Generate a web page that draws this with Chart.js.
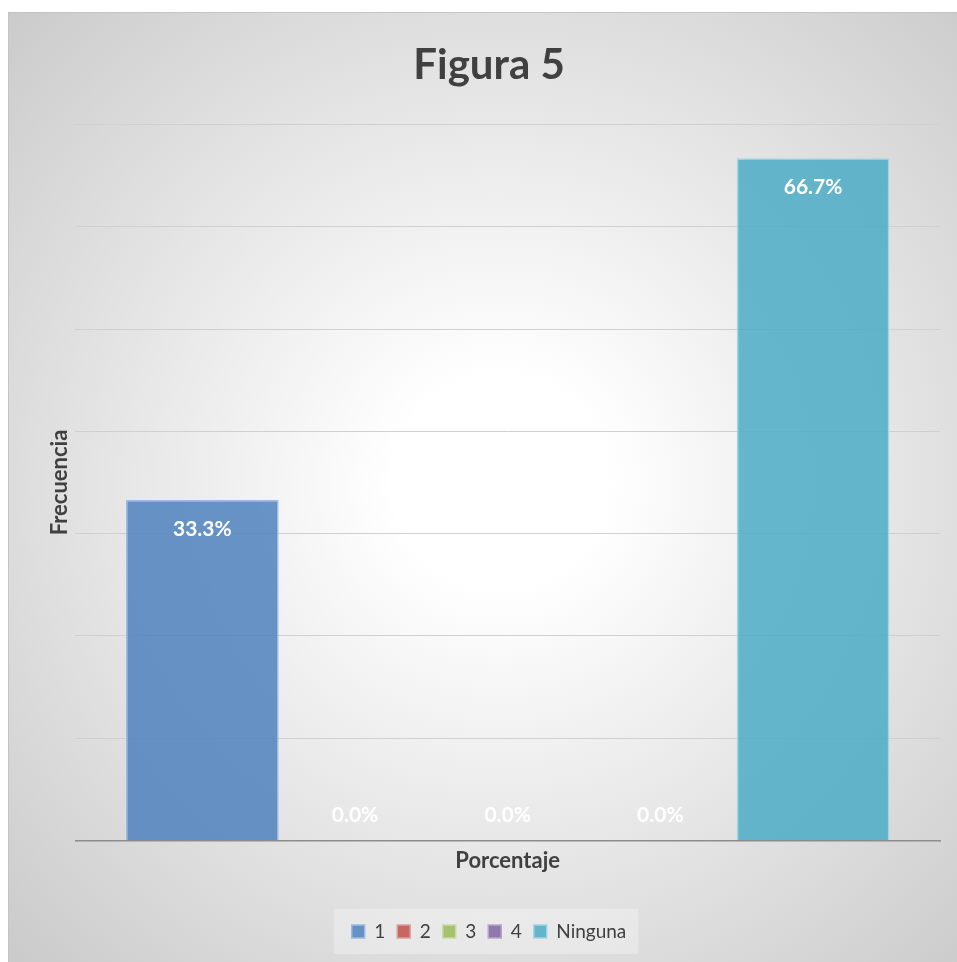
<!DOCTYPE html>
<html>
<head>
<meta charset="utf-8">
<script src="https://cdn.jsdelivr.net/npm/chart.js@4.4.1/dist/chart.umd.min.js"></script>
<style>
    html, body { margin: 0; padding: 0; background: #ffffff; }
    #wrap { position: absolute; left: 8px; top: 12px; width: 949px; height: 950px; }
</style>
</head>
<body>
<div id="wrap"><canvas id="chartBar"></canvas></div>
<script>
// datos del grafico
var categorias = ['1', '2', '3', '4', 'Ninguna'];
var valores = [0.333, 0, 0, 0, 0.667];
var colores = ['rgba(79,129,189,0.85)', 'rgba(192,80,77,0.85)', 'rgba(155,187,89,0.85)', 'rgba(128,100,162,0.85)', 'rgba(75,172,198,0.85)'];
var bordes = ['#9dbbe0', '#e0a09e', '#c6dba6', '#b7a5cf', '#a3d5e3'];

// fondo degradado y recuadro de leyenda
var fondo = {
    id: 'fondo',
    beforeDraw: function (chart) {
        var ctx = chart.ctx;
        var w = chart.width, h = chart.height;
        ctx.save();
        var g = ctx.createRadialGradient(492, 470, 0, 492, 470, 700);
        g.addColorStop(0, '#ffffff');
        g.addColorStop(0.15, '#ffffff');
        g.addColorStop(1, '#c9c9c9');
        ctx.fillStyle = g;
        ctx.fillRect(0, 0, w, h);
        ctx.strokeStyle = '#c4c4c4';
        ctx.lineWidth = 1;
        ctx.beginPath();
        ctx.moveTo(0.5, h);
        ctx.lineTo(0.5, 0.5);
        ctx.lineTo(w, 0.5);
        ctx.stroke();

        var lg = chart.legend;
        if (lg && lg.legendHitBoxes && lg.legendHitBoxes.length) {
            var b = lg.legendHitBoxes;
            var x0 = b[0].left - 18;
            var x1 = b[b.length - 1].left + b[b.length - 1].width + 12;
            var y0 = b[0].top - 13;
            var y1 = b[0].top + b[0].height + 13;
            ctx.fillStyle = 'rgba(255,255,255,0.3)';
            ctx.fillRect(x0, y0, x1 - x0, y1 - y0);
        }
        ctx.restore();
    }
};

// etiquetas de porcentaje dentro de las barras
var etiquetas = {
    id: 'etiquetas',
    afterDatasetsDraw: function (chart) {
        var ctx = chart.ctx;
        ctx.save();
        ctx.font = 'bold 21px Lato';
        ctx.fillStyle = '#ffffff';
        ctx.textAlign = 'center';
        ctx.textBaseline = 'middle';
        chart.data.datasets.forEach(function (ds, i) {
            var meta = chart.getDatasetMeta(i);
            meta.data.forEach(function (el, j) {
                var v = ds.data[j];
                var y = v > 0 ? el.y + 29 : el.base - 25;
                ctx.fillText((v * 100).toFixed(1) + '%', el.x, y);
            });
        });
        ctx.restore();
    }
};

var datasets = categorias.map(function (c, i) {
    return {
        label: c,
        data: [valores[i]],
        backgroundColor: colores[i],
        borderColor: bordes[i],
        borderWidth: 1.5,
        categoryPercentage: 0.883,
        barPercentage: 1
    };
});

var ctx = document.getElementById('chartBar').getContext('2d');
var chart = new Chart(ctx, {
    type: 'bar',
    data: {
        labels: [''],
        datasets: datasets
    },
    options: {
        responsive: true,
        maintainAspectRatio: false,
        animation: false,
        layout: {
            padding: { left: 30, right: 17, top: 0, bottom: 11 }
        },
        plugins: {
            title: {
                display: true,
                text: 'Figura 5',
                color: '#404040',
                font: { family: 'Lato', size: 42, weight: 'bold' },
                padding: { top: 28, bottom: 34 }
            },
            legend: {
                display: true,
                position: 'bottom',
                labels: {
                    color: '#404040',
                    font: { family: 'Lato', size: 19 },
                    boxWidth: 13,
                    boxHeight: 13,
                    padding: 12
                }
            },
            tooltip: { enabled: false }
        },
        scales: {
            x: {
                grid: { display: false, drawTicks: false },
                border: { color: '#8c8c8c', width: 1.5 },
                ticks: { display: false },
                title: {
                    display: true,
                    text: 'Porcentaje',
                    color: '#404040',
                    font: { family: 'Lato', size: 22, weight: 'bold' },
                    padding: { top: 7, bottom: 36 }
                }
            },
            y: {
                min: 0,
                max: 0.7,
                ticks: { display: false, stepSize: 0.1 },
                grid: { color: '#d0d0d0', lineWidth: 1, drawTicks: false },
                border: { display: false },
                title: {
                    display: true,
                    text: 'Frecuencia',
                    color: '#404040',
                    font: { family: 'Lato', size: 22, weight: 'bold' },
                    padding: { top: 9, bottom: 2 }
                }
            }
        }
    },
    plugins: [fondo, etiquetas]
});
</script>
</body>
</html>
